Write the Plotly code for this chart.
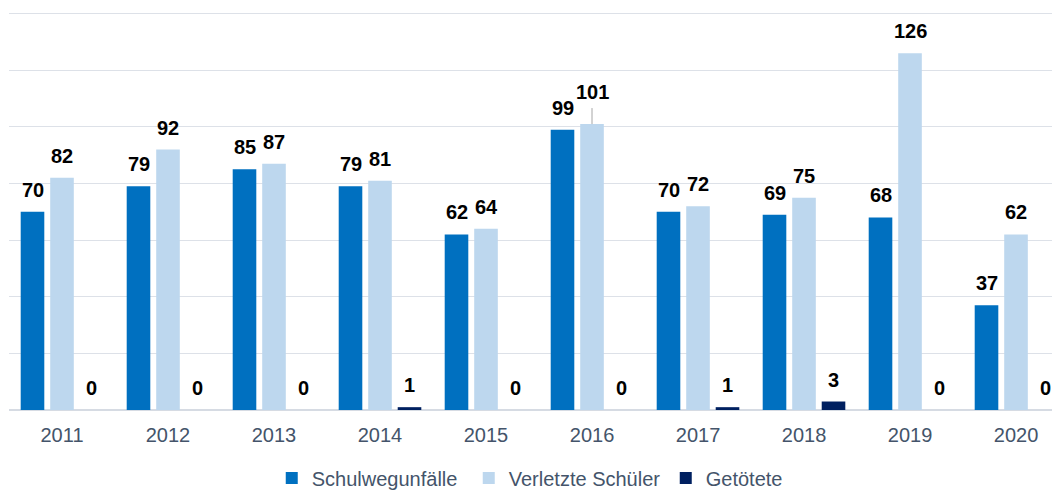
import plotly.graph_objects as go

years = ["2011", "2012", "2013", "2014", "2015", "2016", "2017", "2018", "2019", "2020"]
schulwegunfaelle = [70, 79, 85, 79, 62, 99, 70, 69, 68, 37]
verletzte = [82, 92, 87, 81, 64, 101, 72, 75, 126, 62]
getoetete = [0, 0, 0, 1, 0, 0, 1, 3, 0, 0]

series = [
    ("Schulwegunfälle", schulwegunfaelle, "#0070C0"),
    ("Verletzte Schüler", verletzte, "#BDD7EE"),
    ("Getötete", getoetete, "#002060"),
]

FONT = "Arial, Liberation Sans, sans-serif"
fig = go.Figure()
for name, vals, col in series:
    fig.add_trace(go.Bar(x=years, y=vals, name=name, marker=dict(color=col, line=dict(width=0)),
                         hoverinfo="skip"))

slot = 0.278  # offset of each bar within a group (category units)
offsets = [-slot, 0, slot]
annotations = []
shapes = []
for k, (name, vals, col) in enumerate(series):
    for i, v in enumerate(vals):
        extra = 0
        if name == "Verletzte Schüler" and years[i] == "2016":
            extra = 10
            shapes.append(dict(type="line", xref="x", yref="y", x0=i + offsets[k], x1=i + offsets[k],
                               ysizemode="pixel", yanchor=v, y0=0, y1=16,
                               line=dict(color="#A6A6A6", width=1)))
        annotations.append(dict(x=i + offsets[k], y=v, xref="x", yref="y", text=f"<b>{v}</b>",
                                showarrow=False, yanchor="bottom", xanchor="center",
                                yshift=9 + extra,
                                font=dict(family=FONT, size=20, color="#000000")))

# page has an 8px body margin; compensate so the plot lands where the reference has it
fig.update_layout(
    width=1052, height=482,
    margin=dict(l=1, r=0, t=0, b=80, autoexpand=False),
    paper_bgcolor="white", plot_bgcolor="white",
    barmode="group", bargap=0.165, bargroupgap=0.2,
    showlegend=True,
    legend=dict(orientation="h", x=0.250, xanchor="left", y=-0.169, yanchor="middle",
                font=dict(family=FONT, size=20, color="#44546A"), itemwidth=30,
                entrywidth=152, traceorder="normal"),
    annotations=annotations,
    shapes=shapes,
    xaxis=dict(type="category", range=[-0.5, 9.415], showgrid=False, showline=False,
               zeroline=False, ticks="", ticklabelstandoff=11,
               tickfont=dict(family=FONT, size=20, color="#44546A")),
    yaxis=dict(range=[0, 142], dtick=20, tick0=0, showticklabels=False, showgrid=True,
               gridcolor="#DDE1E8", gridwidth=1.3, zeroline=True, zerolinecolor="#D6DBE3",
               zerolinewidth=1.5, showline=False, ticks=""),
)
fig.write_html("out.html")
